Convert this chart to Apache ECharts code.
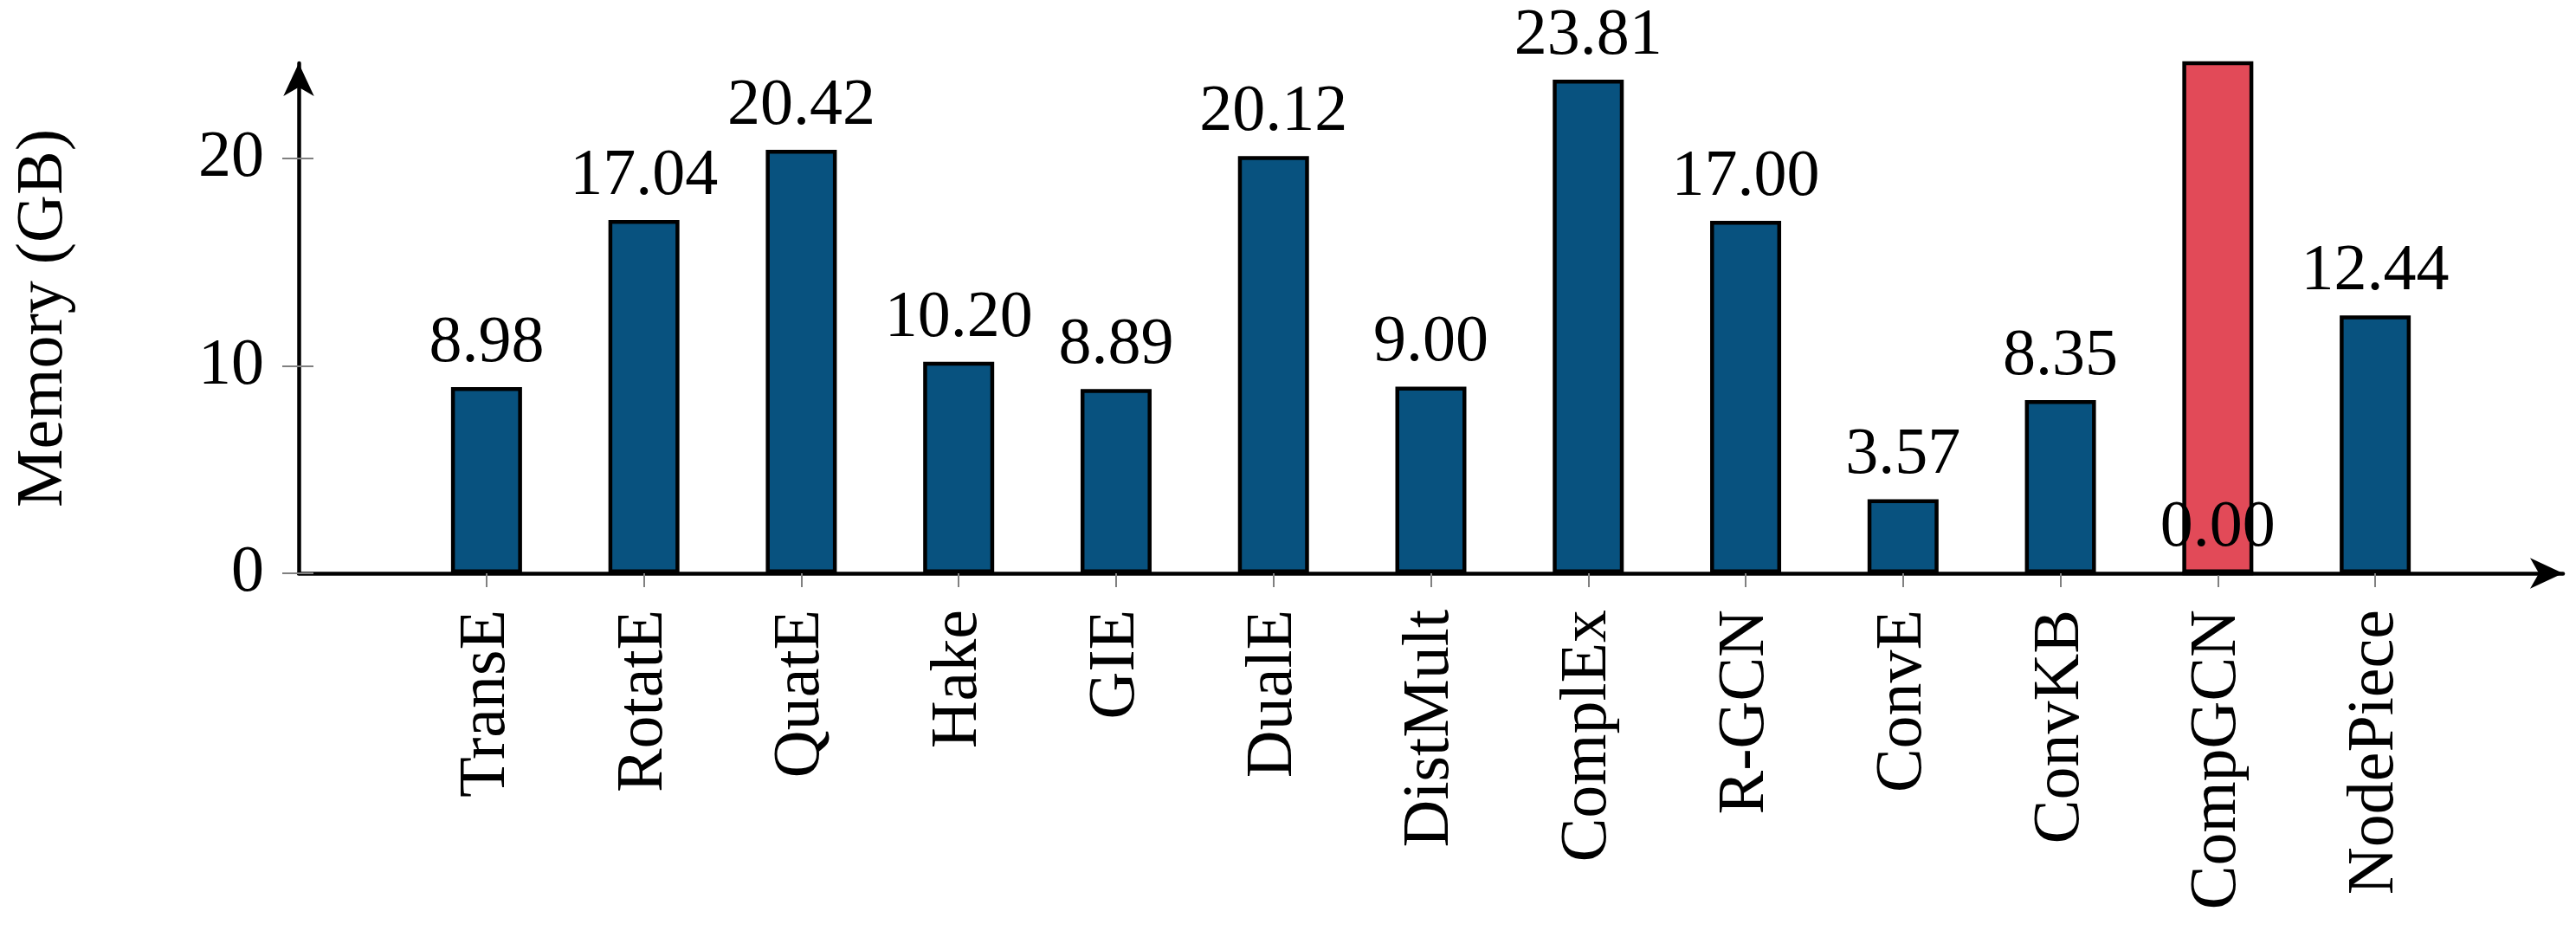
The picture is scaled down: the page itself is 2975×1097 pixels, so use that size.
<!DOCTYPE html>
<html>
<head>
<meta charset="utf-8">
<script src="https://cdn.jsdelivr.net/npm/echarts@6/dist/echarts.min.js"></script>
<style>
  html, body { margin: 0; padding: 0; background: #fff; }
  #chart { width: 2975px; height: 1097px; }
</style>
</head>
<body>
<div id="chart"></div>
<script>
// memory use per model (GB)
const models = ['TransE', 'RotatE', 'QuatE', 'Hake', 'GIE', 'DualE', 'DistMult', 'ComplEx', 'R-GCN', 'ConvE', 'ConvKB', 'CompGCN', 'NodePiece']
const memory = [8.98, 17.04, 20.42, 10.20, 8.89, 20.12, 9.00, 23.81, 17.00, 3.57, 8.35, 0.00, 12.44]
// CompGCN ran out of memory: the red bar runs off the top of the plot
const outOfMemory = [null, null, null, null, null, null, null, null, null, null, null, 26, null]
const yTicks = [0, 10, 20]
const yMax = 24.6

const font = 'Liberation Serif, Times New Roman, serif'
const tickGrey = '#808080'
const plotTop = 73
const plotBottom = 435
// stealth-style arrow head, tip on the end of the axis
const arrow = {
  symbol: ['none', 'path://M14,0 L28,30 L14,22 L0,30 Z'],
  symbolSize: [36, 38],
  symbolOffset: [0, -19],
}

const chart = echarts.init(document.getElementById('chart'))

chart.setOption({
  animation: false,
  grid: [
    // axis frame with arrows
    {left: 345, right: 15, top: plotTop, bottom: plotBottom},
    // bars
    {left: 471, width: 2363, top: plotTop, bottom: plotBottom},
  ],
  xAxis: [
    {
      gridIndex: 0, type: 'value', min: 0, max: 1,
      axisLine: {show: true, lineStyle: {color: '#000', width: 4.5}, ...arrow},
      axisTick: {show: false}, axisLabel: {show: false}, splitLine: {show: false},
    },
    {
      gridIndex: 1, type: 'category', data: models,
      axisLine: {show: false},
      axisTick: {show: true, alignWithLabel: true, length: 16, lineStyle: {color: tickGrey, width: 2}},
      axisLabel: {rotate: 90, margin: 42, fontFamily: font, fontSize: 76, color: '#000'},
    },
  ],
  yAxis: [
    {
      gridIndex: 0, type: 'value', position: 'left', min: 0, max: yMax,
      name: 'Memory (GB)', nameLocation: 'middle', nameRotate: 90, nameGap: 256,
      nameTextStyle: {fontFamily: font, fontSize: 76, color: '#000'},
      axisLine: {show: true, lineStyle: {color: '#000', width: 4.5}, ...arrow},
      axisTick: {show: true, length: 19, customValues: yTicks, lineStyle: {color: tickGrey, width: 2}},
      axisLabel: {margin: 40, customValues: yTicks, fontFamily: font, fontSize: 76, color: '#000'},
      splitLine: {show: false},
    },
    {
      gridIndex: 0, type: 'value', position: 'left', min: 0, max: yMax,
      axisLine: {show: false},
      axisTick: {show: true, inside: true, length: 17, customValues: yTicks, lineStyle: {color: tickGrey, width: 2}},
      axisLabel: {show: false}, splitLine: {show: false},
    },
    {
      gridIndex: 1, type: 'value', min: 0, max: yMax,
      show: false, splitLine: {show: false},
    },
  ],
  series: [
    {
      type: 'bar', xAxisIndex: 1, yAxisIndex: 2,
      data: outOfMemory, barWidth: 82, barGap: '-100%', clip: true,
      itemStyle: {color: '#e24a58', borderColor: '#000', borderWidth: 4.5},
    },
    {
      type: 'bar', xAxisIndex: 1, yAxisIndex: 2,
      data: memory, barWidth: 82, barGap: '-100%',
      itemStyle: {color: '#08527f', borderColor: '#000', borderWidth: 4.5},
      label: {
        show: true, position: 'top', distance: 12,
        fontFamily: font, fontSize: 76, color: '#000',
        formatter: (p) => p.value.toFixed(2),
      },
    },
  ],
})
</script>
</body>
</html>
